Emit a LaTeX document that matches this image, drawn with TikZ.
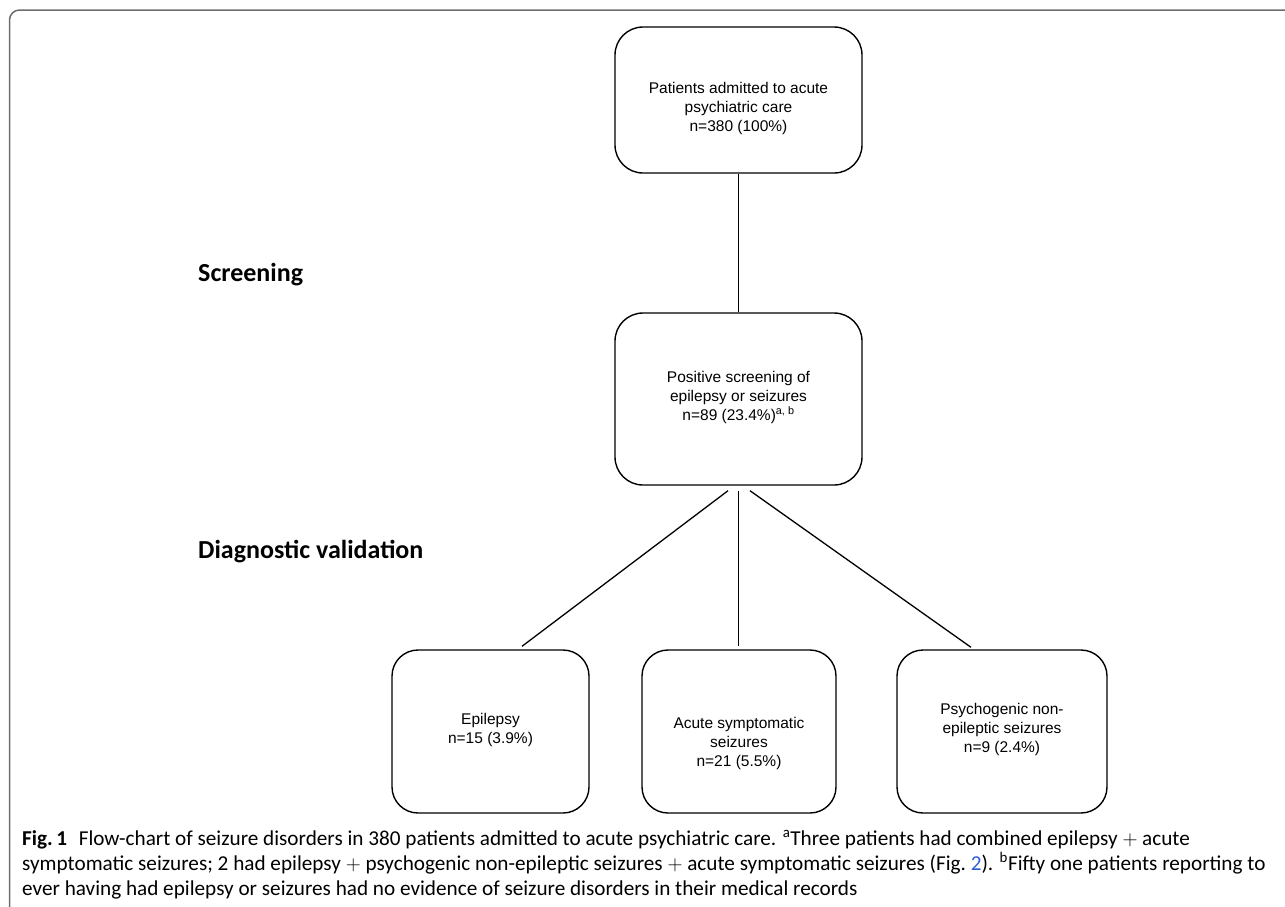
\documentclass[tikz,border=0pt]{standalone}
\usepackage{fontspec}
\setmainfont{Liberation Sans}
\newfontfamily\capfont{Carlito}
\usetikzlibrary{calc}
\definecolor{framegray}{HTML}{6E6E6E}
\definecolor{linkblue}{HTML}{2A5BD7}
\begin{document}
\begin{tikzpicture}[x=1pt,y=-1pt,
  flowbox/.style={draw=black, line width=1.4pt, rounded corners=28pt, inner sep=0pt},
  boxtext/.style={align=center, font=\fontsize{15.5}{19}\selectfont, inner sep=0pt},
  stage/.style={anchor=base west, font=\capfont\bfseries\fontsize{26}{30}\selectfont, inner sep=0pt},
  conn/.style={line width=1.3pt, black},
  capline/.style={anchor=base west, inner sep=0pt, font=\capfont\fontsize{21.2}{25}\selectfont}]
\useasboundingbox (0,0) rectangle (1285,906);
% frame
\draw[framegray, line width=1.5pt, rounded corners=10pt] (1300,10) -- (9.5,10) -- (9.5,920);
% boxes
\node[flowbox, minimum width=247pt, minimum height=146pt] (b1) at (738.5,100) {};
\node[boxtext] (t1) at (738.5,108) {Patients admitted to acute\\psychiatric care\\n=380 (100\%)};
\node[flowbox, minimum width=247pt, minimum height=172pt] (b2) at (738.5,399) {};
\node[boxtext] (t2) at (738.5,397) {Positive screening of\\epilepsy or seizures\\n=89 (23.4\%)\textsuperscript{a, b}};
\node[flowbox, rounded corners=26pt, minimum width=197pt, minimum height=163pt] (b3) at (490.5,731.5) {};
\node[boxtext] (t3) at (490.5,730) {Epilepsy\\n=15 (3.9\%)};
\node[flowbox, rounded corners=26pt, minimum width=194pt, minimum height=163pt] (b4) at (739,731.5) {};
\node[boxtext] (t4) at (739,743) {Acute symptomatic\\seizures\\n=21 (5.5\%)};
\node[flowbox, rounded corners=26pt, minimum width=210pt, minimum height=163pt] (b5) at (1002,731.5) {};
\node[boxtext] (t5) at (1002,729) {Psychogenic non-\\epileptic seizures\\n=9 (2.4\%)};
% connectors
\draw[conn] (b1.south) -- (b2.north);
\coordinate (s1) at ($(b2.south)+(-10.5,5)$);
\coordinate (s2) at ($(b2.south)+(0,5)$);
\coordinate (s3) at ($(b2.south)+(11.5,5)$);
\coordinate (e1) at ($(b3.north)+(31.5,-3)$);
\coordinate (e2) at ($(b2.south)+(0,160)$);
\coordinate (e3) at ($(b5.north)+(-31,-2)$);
\draw[conn] (s1) -- (e1);
\draw[conn] (s2) -- (e2);
\draw[conn] (s3) -- (e3);
% stage labels
\node[stage] (scr) at (198,281) {Screening};
\node[stage] (dia) at (198,558) {Diagnostic validation};
% caption
\node[capline] (c1) at (22,845) {\textbf{Fig.\,1}\hspace{0.55em}Flow-chart of seizure disorders in 380 patients admitted to acute psychiatric care. \textsuperscript{a}Three patients had combined epilepsy $+$ acute};
\node[capline] (c2) at (22,870) {symptomatic seizures; 2 had epilepsy $+$ psychogenic non-epileptic seizures $+$ acute symptomatic seizures (Fig.~\textcolor{linkblue}{2}). \textsuperscript{b}Fifty one patients reporting to};
\node[capline] (c3) at (22,895) {ever having had epilepsy or seizures had no evidence of seizure disorders in their medical records};
\end{tikzpicture}
\end{document}
